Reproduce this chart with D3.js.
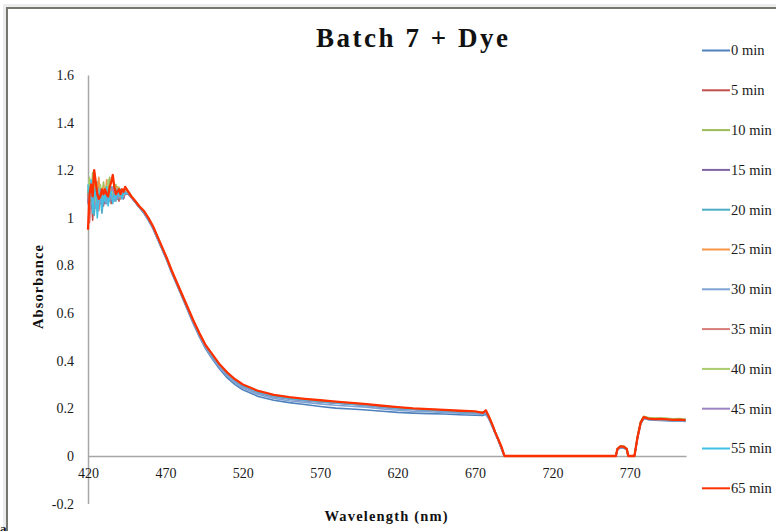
<!DOCTYPE html>
<html>
<head>
<meta charset="utf-8">
<script src="https://cdn.jsdelivr.net/npm/d3@7"></script>
<style>
  body { margin: 0; background: #fff; }
  svg { display: block; }
</style>
</head>
<body>
<svg id="chart" width="776" height="531"></svg>
<script>
// Wavelength grid (nm): 1 nm steps through the noisy blue end, coarser afterwards
const wavelengths = [
  420,421,422,423,424,425,426,427,428,429,430,431,432,433,434,435,436,437,438,439,440,441,442,443,444,
  446,448,450,453,456,459,462,465,468,471,474,477,480,
  484,488,492,496,500,
  505,510,515,520,
  530,540,550,560,570,580,590,600,610,620,630,640,650,660,670,
  675,677,679,681,683,685,687,689,
  761,762,764,766,768,769,
  773,775,777,779,
  782,786,790,794,798,802,806
];

const seriesNames = ["0 min","5 min","10 min","15 min","20 min","25 min","30 min","35 min","40 min","45 min","55 min","65 min"];
const seriesColors = ["#4F81BD","#C0504D","#9BBB59","#8064A2","#4BACC6","#F79646","#7DA3D4","#D77C7A","#AACB6E","#9B84C0","#41C0E4","#FF3000"];

const min0 = [
  1.06,1.10,1.08,1.12,1.05,1.09,1.13,1.07,1.10,1.06,1.11,1.08,1.12,1.09,1.07,1.10,1.12,1.08,1.11,1.09,1.10,1.12,1.09,1.11,1.10,
  1.10,1.085,1.07,1.045,1.02,0.99,0.955,0.91,0.865,0.82,0.77,0.725,0.68,
  0.618,0.556,0.50,0.45,0.41,
  0.365,0.328,0.30,0.278,
  0.25,0.234,0.224,0.216,0.208,0.201,0.197,0.193,0.188,0.183,0.18,0.178,0.176,0.173,0.171,
  0.17,0.175,0.155,0.125,0.095,0.065,0.032,0,
  0,0.025,0.035,0.034,0.026,0,
  0,0.075,0.135,0.158,
  0.152,0.15,0.149,0.148,0.146,0.147,0.145
];
const min5 = [
  1.08,1.02,1.11,0.99,1.12,1.07,1.04,1.13,1.08,1.10,1.05,1.12,1.07,1.09,1.11,1.06,1.10,1.13,1.08,1.10,1.07,1.11,1.09,1.10,1.11,
  1.10,1.09,1.072,1.048,1.026,0.996,0.96,0.915,0.87,0.826,0.776,0.73,0.686,
  0.626,0.566,0.511,0.461,0.425,
  0.38,0.345,0.317,0.295,
  0.268,0.252,0.242,0.235,0.229,0.224,0.219,0.214,0.207,0.201,0.196,0.193,0.19,0.186,0.183,
  0.18,0.186,0.162,0.132,0.10,0.068,0.034,0,
  0,0.028,0.038,0.037,0.028,0,
  0,0.078,0.138,0.16,
  0.156,0.154,0.154,0.153,0.151,0.152,0.15
];
const min10 = [
  1.10,1.16,1.05,1.19,1.10,1.06,1.14,1.09,1.12,1.07,1.15,1.10,1.08,1.13,1.17,1.09,1.11,1.10,1.14,1.08,1.12,1.09,1.11,1.10,1.12,
  1.11,1.092,1.074,1.05,1.028,0.998,0.962,0.917,0.872,0.828,0.778,0.732,0.688,
  0.628,0.568,0.513,0.463,0.427,
  0.382,0.347,0.319,0.297,
  0.27,0.254,0.244,0.237,0.231,0.226,0.221,0.216,0.209,0.203,0.198,0.195,0.192,0.188,0.185,
  0.182,0.189,0.164,0.134,0.102,0.069,0.035,0,
  0,0.031,0.042,0.041,0.031,0,
  0,0.082,0.143,0.166,
  0.16,0.158,0.158,0.157,0.155,0.156,0.154
];
const min15 = [
  1.07,1.12,1.04,1.10,1.08,1.13,1.03,1.11,1.07,1.09,1.12,1.06,1.10,1.08,1.11,1.09,1.07,1.12,1.10,1.08,1.11,1.09,1.10,1.08,1.10,
  1.10,1.088,1.07,1.046,1.024,0.994,0.958,0.913,0.868,0.824,0.774,0.728,0.684,
  0.624,0.563,0.508,0.458,0.421,
  0.377,0.342,0.314,0.292,
  0.265,0.249,0.239,0.232,0.227,0.222,0.217,0.212,0.205,0.199,0.195,0.192,0.189,0.185,0.182,
  0.179,0.185,0.161,0.131,0.099,0.067,0.034,0,
  0,0.027,0.037,0.036,0.027,0,
  0,0.077,0.137,0.159,
  0.155,0.153,0.153,0.152,0.15,0.151,0.149
];
const min20 = [
  1.12,1.03,1.14,1.06,1.01,1.10,1.15,1.04,1.09,1.02,1.08,1.12,1.06,1.10,1.07,1.13,1.09,1.11,1.07,1.10,1.08,1.11,1.09,1.10,1.11,
  1.105,1.09,1.071,1.047,1.025,0.995,0.959,0.914,0.869,0.825,0.775,0.729,0.685,
  0.625,0.564,0.509,0.459,0.422,
  0.378,0.343,0.315,0.293,
  0.266,0.25,0.24,0.233,0.228,0.223,0.218,0.213,0.206,0.20,0.196,0.193,0.19,0.186,0.183,
  0.18,0.186,0.162,0.132,0.10,0.068,0.034,0,
  0,0.029,0.039,0.038,0.029,0,
  0,0.079,0.139,0.161,
  0.156,0.153,0.152,0.151,0.149,0.15,0.148
];
const min25 = [
  1.09,1.13,1.07,1.15,1.11,1.06,1.12,1.17,1.08,1.10,1.13,1.07,1.16,1.09,1.11,1.08,1.12,1.10,1.09,1.13,1.10,1.08,1.11,1.09,1.11,
  1.108,1.091,1.073,1.049,1.027,0.997,0.961,0.916,0.871,0.827,0.777,0.731,0.687,
  0.627,0.567,0.512,0.462,0.426,
  0.381,0.346,0.318,0.296,
  0.269,0.253,0.243,0.236,0.23,0.225,0.22,0.215,0.208,0.202,0.197,0.194,0.191,0.187,0.184,
  0.181,0.188,0.163,0.133,0.101,0.069,0.035,0,
  0,0.03,0.041,0.04,0.03,0,
  0,0.081,0.141,0.164,
  0.158,0.156,0.156,0.155,0.153,0.154,0.152
];
const min30 = [
  1.08,1.11,1.06,1.13,1.09,1.04,1.10,1.12,1.07,1.09,1.11,1.08,1.06,1.10,1.12,1.09,1.11,1.07,1.10,1.09,1.11,1.10,1.08,1.10,1.11,
  1.10,1.086,1.07,1.046,1.022,0.992,0.956,0.911,0.866,0.821,0.772,0.726,0.682,
  0.62,0.559,0.503,0.453,0.415,
  0.371,0.335,0.307,0.285,
  0.258,0.242,0.232,0.225,0.219,0.213,0.209,0.205,0.198,0.192,0.188,0.186,0.183,0.18,0.177,
  0.175,0.18,0.158,0.128,0.097,0.066,0.033,0,
  0,0.026,0.036,0.035,0.027,0,
  0,0.076,0.136,0.158,
  0.153,0.151,0.15,0.149,0.147,0.148,0.146
];
const min35 = [
  1.10,0.98,1.09,1.12,1.06,1.10,1.08,1.03,1.12,1.07,1.10,1.09,1.13,1.06,1.10,1.12,1.08,1.11,1.09,1.10,1.12,1.08,1.10,1.11,1.10,
  1.104,1.089,1.072,1.048,1.026,0.996,0.96,0.915,0.87,0.826,0.776,0.73,0.686,
  0.626,0.566,0.511,0.461,0.424,
  0.38,0.345,0.317,0.295,
  0.268,0.252,0.242,0.235,0.23,0.225,0.22,0.215,0.208,0.202,0.197,0.194,0.191,0.187,0.184,
  0.181,0.187,0.163,0.133,0.101,0.068,0.034,0,
  0,0.029,0.039,0.038,0.029,0,
  0,0.079,0.139,0.161,
  0.157,0.155,0.155,0.154,0.152,0.153,0.151
];
const min40 = [
  1.11,1.17,1.08,1.13,1.18,1.07,1.11,1.09,1.14,1.10,1.08,1.13,1.11,1.16,1.09,1.12,1.10,1.14,1.09,1.11,1.13,1.10,1.12,1.11,1.12,
  1.112,1.093,1.075,1.051,1.029,0.999,0.963,0.918,0.873,0.829,0.779,0.733,0.689,
  0.629,0.569,0.514,0.464,0.428,
  0.383,0.348,0.32,0.298,
  0.271,0.255,0.245,0.238,0.232,0.227,0.222,0.217,0.21,0.204,0.199,0.196,0.193,0.189,0.186,
  0.183,0.19,0.164,0.134,0.102,0.07,0.036,0,
  0,0.032,0.043,0.042,0.032,0,
  0,0.083,0.145,0.167,
  0.161,0.159,0.159,0.158,0.156,0.157,0.155
];
const min45 = [
  1.06,1.10,1.13,1.05,1.09,1.12,1.07,1.10,1.06,1.11,1.09,1.12,1.08,1.10,1.07,1.11,1.13,1.09,1.10,1.08,1.12,1.10,1.09,1.11,1.10,
  1.102,1.087,1.07,1.046,1.024,0.994,0.958,0.913,0.868,0.824,0.774,0.728,0.684,
  0.624,0.564,0.509,0.459,0.422,
  0.378,0.343,0.315,0.293,
  0.266,0.25,0.24,0.233,0.228,0.223,0.218,0.213,0.206,0.20,0.196,0.193,0.19,0.186,0.183,
  0.18,0.186,0.162,0.132,0.10,0.068,0.034,0,
  0,0.028,0.038,0.037,0.028,0,
  0,0.078,0.138,0.16,
  0.155,0.153,0.153,0.152,0.15,0.151,0.149
];
const min55 = [
  1.14,1.05,1.16,1.02,1.09,1.13,1.00,1.08,1.12,1.04,1.10,1.07,1.13,1.05,1.09,1.11,1.06,1.10,1.08,1.12,1.09,1.10,1.08,1.11,1.10,
  1.106,1.09,1.072,1.048,1.026,0.996,0.96,0.915,0.87,0.826,0.776,0.73,0.686,
  0.626,0.566,0.511,0.461,0.424,
  0.38,0.345,0.317,0.295,
  0.268,0.252,0.242,0.235,0.229,0.224,0.219,0.214,0.207,0.201,0.196,0.193,0.19,0.186,0.183,
  0.18,0.187,0.162,0.132,0.10,0.068,0.034,0,
  0,0.029,0.039,0.038,0.029,0,
  0,0.079,0.139,0.161,
  0.156,0.154,0.153,0.152,0.15,0.151,0.149
];
const min65 = [
  0.95,1.10,1.14,1.09,1.20,1.15,1.10,1.08,1.09,1.12,1.10,1.12,1.10,1.09,1.13,1.15,1.18,1.13,1.10,1.11,1.12,1.10,1.12,1.11,1.13,
  1.11,1.09,1.075,1.05,1.03,1.0,0.965,0.92,0.875,0.83,0.78,0.735,0.69,
  0.63,0.57,0.515,0.465,0.43,
  0.385,0.35,0.322,0.30,
  0.273,0.257,0.247,0.24,0.234,0.228,0.223,0.218,0.211,0.205,0.20,0.197,0.194,0.19,0.187,
  0.181,0.192,0.165,0.135,0.10,0.07,0.04,0,
  0,0.03,0.04,0.039,0.03,0,
  0,0.08,0.14,0.163,
  0.157,0.155,0.156,0.154,0.152,0.153,0.151
];

const seriesValues = [min0, min5, min10, min15, min20, min25, min30, min35, min40, min45, min55, min65];

const xTickValues = [420, 470, 520, 570, 620, 670, 720, 770];
const yTickValues = [-0.2, 0, 0.2, 0.4, 0.6, 0.8, 1, 1.2, 1.4, 1.6];
const yTickLabels = ["-0.2", "0", "0.2", "0.4", "0.6", "0.8", "1", "1.2", "1.4", "1.6"];

const serif = "'Liberation Serif', 'Times New Roman', serif";
const svg = d3.select("#chart");

// outer chart frame with a soft shadow
svg.append("rect").attr("x", 4.5).attr("y", 5.5).attr("width", 820).attr("height", 600)
  .attr("fill", "none").attr("stroke", "#ececec").attr("stroke-width", 3);
svg.append("rect").attr("x", 7).attr("y", 8).attr("width", 820).attr("height", 600)
  .attr("fill", "#fff").attr("stroke", "#77776f").attr("stroke-width", 2);

const x = d3.scaleLinear().domain([420, 806.3]).range([88, 686]);
const y = d3.scaleLinear().domain([-0.2, 1.6]).range([503.6, 75]);

// y axis
const yAxis = svg.append("g").attr("transform", "translate(88,0)")
  .call(d3.axisLeft(y).tickValues(yTickValues)
    .tickFormat((d, i) => yTickLabels[i]).tickSize(0).tickPadding(14));
yAxis.select(".domain").attr("stroke", "#a6a6a6").attr("stroke-width", 1.5);
yAxis.selectAll("text").attr("font-family", serif).attr("font-size", 14).attr("fill", "#1a1a1a");

// x axis drawn along zero absorbance
const xAxis = svg.append("g").attr("transform", `translate(0,${y(0)})`)
  .call(d3.axisBottom(x).tickValues(xTickValues).tickFormat(d3.format("d"))
    .tickSize(0).tickSizeOuter(0).tickPadding(12));
xAxis.select(".domain").attr("stroke", "#a6a6a6").attr("stroke-width", 1.5);
xAxis.selectAll("text").attr("font-family", serif).attr("font-size", 14).attr("fill", "#1a1a1a");

// spectra, earliest first so the latest reading sits on top
const line = d3.line()
  .x((d, i) => x(wavelengths[i]))
  .y(d => y(d));

svg.append("g").selectAll("path")
  .data(seriesValues)
  .join("path")
  .attr("d", line)
  .attr("fill", "none")
  .attr("stroke", (d, i) => seriesColors[i])
  .attr("stroke-width", (d, i) => i === seriesValues.length - 1 ? 2.3 : 1.6)
  .attr("stroke-linejoin", "round");

// title
svg.append("text").attr("x", 412).attr("y", 47).attr("text-anchor", "middle")
  .attr("font-family", serif).attr("font-weight", "bold").attr("font-size", 27)
  .attr("textLength", 192).attr("lengthAdjust", "spacing")
  .attr("fill", "#111").text("Batch 7 + Dye");

// axis titles
svg.append("text").attr("transform", "translate(43,287) rotate(-90)")
  .attr("text-anchor", "middle").attr("font-family", serif).attr("font-weight", "bold")
  .attr("font-size", 14.5).attr("textLength", 84).attr("lengthAdjust", "spacing")
  .attr("fill", "#111").text("Absorbance");
svg.append("text").attr("x", 386).attr("y", 521).attr("text-anchor", "middle")
  .attr("font-family", serif).attr("font-weight", "bold").attr("font-size", 14.5)
  .attr("textLength", 123).attr("lengthAdjust", "spacing")
  .attr("fill", "#111").text("Wavelength (nm)");

// legend
const legend = svg.append("g").selectAll("g")
  .data(seriesNames)
  .join("g")
  .attr("transform", (d, i) => `translate(702,${50.5 + i * 39.8})`);
legend.append("line").attr("x1", 0).attr("x2", 28).attr("y1", 0).attr("y2", 0)
  .attr("stroke", (d, i) => seriesColors[i]).attr("stroke-width", 2);
legend.append("text").attr("x", 29).attr("y", 0).attr("dy", "0.34em")
  .attr("font-family", serif).attr("font-size", 14.5).attr("fill", "#1a1a1a")
  .text(d => d);

// panel letter at the lower left margin
svg.append("text").attr("x", 0).attr("y", 533).attr("font-family", serif)
  .attr("font-weight", "bold").attr("font-size", 13).attr("fill", "#111").text("a");
</script>
</body>
</html>
